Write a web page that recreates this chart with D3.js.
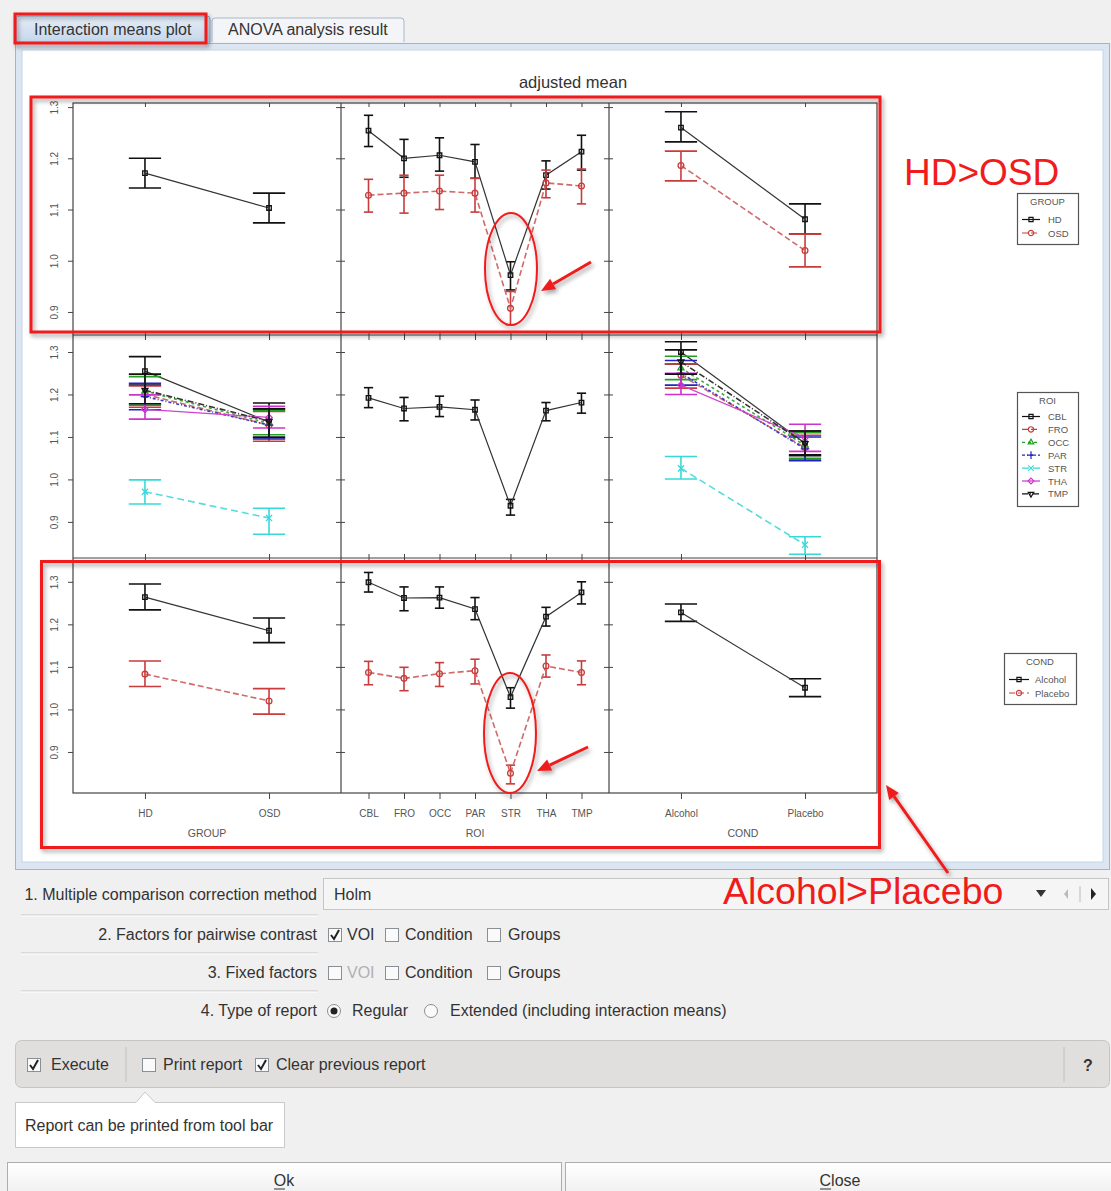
<!DOCTYPE html>
<html><head><meta charset="utf-8">
<script src="https://cdn.jsdelivr.net/npm/d3@7"></script>
<style>
body{margin:0;background:#f0f0f0;}
svg{display:block;font-family:"Liberation Sans",Arial,sans-serif;}
</style></head><body>
<svg id="c" width="1111" height="1191"></svg>
<script>
// ---------------- DATA ----------------
const groupCats = ["HD","OSD"];
const roiCats = ["CBL","FRO","OCC","PAR","STR","THA","TMP"];
const condCats = ["Alcohol","Placebo"];
const yTicks = [0.9,1.0,1.1,1.2,1.3];

// Row 1: trace factor GROUP
const grpMainMean = [1.171,1.103], grpMainLo = [1.142,1.074], grpMainHi = [1.200,1.132];
const hdRoiMean = [1.254,1.200,1.206,1.193,0.972,1.167,1.213];
const hdRoiLo   = [1.223,1.163,1.175,1.161,0.943,1.140,1.177];
const hdRoiHi   = [1.284,1.237,1.240,1.227,0.998,1.195,1.245];
const osdRoiMean = [1.128,1.132,1.136,1.132,0.907,1.152,1.146];
const osdRoiLo   = [1.095,1.093,1.100,1.095,0.875,1.123,1.111];
const osdRoiHi   = [1.159,1.167,1.167,1.161,0.940,1.177,1.179];
const hdCondMean = [1.260,1.081], hdCondLo = [1.232,1.052], hdCondHi = [1.291,1.111];
const osdCondMean = [1.186,1.020], osdCondLo = [1.156,0.988], osdCondHi = [1.214,1.052];

// Row 2: trace factor ROI  (one [HD,OSD] / [Alcohol,Placebo] pair per ROI)
const roiByGroupMean = [[1.255,1.135],[1.200,1.128],[1.208,1.132],[1.195,1.128],[0.971,0.909],[1.165,1.146],[1.210,1.137]];
const roiByGroupLo   = [[1.222,1.098],[1.170,1.090],[1.175,1.105],[1.164,1.095],[0.942,0.871],[1.142,1.121],[1.178,1.100]];
const roiByGroupHi   = [[1.289,1.180],[1.220,1.160],[1.242,1.162],[1.226,1.166],[0.999,0.932],[1.199,1.172],[1.248,1.166]];
const roiMainMean = [1.192,1.167,1.171,1.164,0.938,1.162,1.181];
const roiMainLo   = [1.169,1.138,1.148,1.140,0.916,1.138,1.156];
const roiMainHi   = [1.216,1.193,1.196,1.187,0.953,1.181,1.203];
const roiByCondMean = [[1.300,1.085],[1.245,1.075],[1.262,1.080],[1.250,1.072],[1.026,0.846],[1.222,1.098],[1.277,1.085]];
const roiByCondLo   = [[1.272,1.058],[1.215,1.046],[1.235,1.050],[1.222,1.044],[1.001,0.824],[1.200,1.066],[1.248,1.056]];
const roiByCondHi   = [[1.324,1.114],[1.272,1.104],[1.290,1.110],[1.280,1.100],[1.054,0.865],[1.250,1.130],[1.305,1.114]];

// Row 3: trace factor COND
const alcGroupMean = [1.264,1.185], alcGroupLo = [1.234,1.157], alcGroupHi = [1.295,1.215];
const placGroupMean = [1.083,1.020], placGroupLo = [1.054,0.989], placGroupHi = [1.114,1.049];
const alcRoiMean = [1.299,1.262,1.263,1.236,1.029,1.218,1.275];
const alcRoiLo   = [1.276,1.232,1.238,1.211,1.003,1.196,1.248];
const alcRoiHi   = [1.322,1.288,1.288,1.263,1.051,1.240,1.300];
const placRoiMean = [1.087,1.073,1.084,1.091,0.850,1.102,1.087];
const placRoiLo   = [1.058,1.044,1.054,1.060,0.825,1.076,1.058];
const placRoiHi   = [1.113,1.099,1.110,1.118,0.869,1.128,1.114];
const condMainMean = [1.228,1.051], condMainLo = [1.207,1.030], condMainHi = [1.248,1.072];

const factorTitles = ["GROUP","ROI","COND"];

// ---------------- STYLES ----------------
const sColor = ["#111111","#c83c3c","#22a022","#2222c0","#38d8d8","#cc33cc","#111111"];
const sLine  = ["#333333","#d06a6a","#3aaa3a","#3a3ac8","#55dcdc","#cc44cc","#333333"];
const sDash  = [null,"6,3","3,3","3,2,1,2","7,4",null,"6,2,1,2"];
const sSym   = [d3.symbolSquare2,d3.symbolCircle,d3.symbolTriangle2,d3.symbolPlus,d3.symbolTimes,d3.symbolDiamond2,d3.symbolTriangle2];
const sRot   = [0,0,0,0,0,0,180];

const svg = d3.select("#c");
const defs = svg.append("defs");
const f = defs.append("filter").attr("id","sh").attr("x","-10%").attr("y","-10%").attr("width","130%").attr("height","130%");
f.append("feDropShadow").attr("dx",2).attr("dy",3).attr("stdDeviation",2).attr("flood-color","#000").attr("flood-opacity",0.35);
const gr = defs.append("linearGradient").attr("id","tabg").attr("x1",0).attr("x2",0).attr("y1",0).attr("y2",1);
gr.append("stop").attr("offset","0").attr("stop-color","#e6eef8");
gr.append("stop").attr("offset","1").attr("stop-color","#c4d5ea");
const bg = defs.append("linearGradient").attr("id","btng").attr("x1",0).attr("x2",0).attr("y1",0).attr("y2",1);
bg.append("stop").attr("offset","0").attr("stop-color","#ffffff");
bg.append("stop").attr("offset","1").attr("stop-color","#ececec");

// ---------------- WINDOW CHROME ----------------
svg.append("rect").attr("x",0).attr("y",0).attr("width",1111).attr("height",1191).attr("fill","#f0f0f0");
// tabs
svg.append("path").attr("d","M212,42 L212,21 Q212,18 215,18 L401,18 Q404,18 404,21 L404,42").attr("fill","#f3f5f8").attr("stroke","#a9b8c8");
svg.append("text").attr("x",228).attr("y",35).attr("font-size",16).attr("fill","#333").text("ANOVA analysis result");
svg.append("path").attr("d","M16,43 L16,19 Q16,16 19,16 L207,16 Q210,16 210,19 L210,43").attr("fill","url(#tabg)").attr("stroke","#8eaacb");
svg.append("text").attr("x",34).attr("y",35).attr("font-size",16).attr("fill","#333").text("Interaction means plot");
// plot frame
svg.append("rect").attr("x",15.5).attr("y",43.5).attr("width",1094).attr("height",826).attr("fill","#dbe6f2").attr("stroke","#9db5cf");
svg.append("rect").attr("x",22).attr("y",50).attr("width",1081).attr("height",812).attr("fill","#ffffff").attr("stroke","#c5d4e4");

// ---------------- CHART ----------------
const rows = [
  {top:103,bottom:335,domain:[0.855,1.308]},
  {top:335,bottom:558,domain:[0.815,1.340]},
  {top:558,bottom:793,domain:[0.8035,1.356]}
];
const cols = [
  {left:73,right:341,cats:groupCats,pad:0.58},
  {left:341,right:609,cats:roiCats,pad:0.775},
  {left:609,right:877,cats:condCats,pad:0.58}
];
const yS = rows.map(r=>d3.scaleLinear().domain(r.domain).range([r.bottom,r.top]));
const xS = cols.map(c=>d3.scalePoint().domain(c.cats).range([c.left,c.right]).padding(c.pad));

const S = (m,l,h)=>({mean:m,lo:l,hi:h});
const panels = [
  [[S(grpMainMean,grpMainLo,grpMainHi)],
   [S(hdRoiMean,hdRoiLo,hdRoiHi),S(osdRoiMean,osdRoiLo,osdRoiHi)],
   [S(hdCondMean,hdCondLo,hdCondHi),S(osdCondMean,osdCondLo,osdCondHi)]],
  [roiCats.map((d,i)=>S(roiByGroupMean[i],roiByGroupLo[i],roiByGroupHi[i])),
   [S(roiMainMean,roiMainLo,roiMainHi)],
   roiCats.map((d,i)=>S(roiByCondMean[i],roiByCondLo[i],roiByCondHi[i]))],
  [[S(alcGroupMean,alcGroupLo,alcGroupHi),S(placGroupMean,placGroupLo,placGroupHi)],
   [S(alcRoiMean,alcRoiLo,alcRoiHi),S(placRoiMean,placRoiLo,placRoiHi)],
   [S(condMainMean,condMainLo,condMainHi)]]
];

svg.append("text").attr("x",573).attr("y",88).attr("text-anchor","middle").attr("font-size",16.5).attr("fill","#333").text("adjusted mean");

const chart = svg.append("g");
chart.append("rect").attr("x",73).attr("y",103).attr("width",804).attr("height",690).attr("fill","none").attr("stroke","#444").attr("stroke-width",1.2);
[341,609].forEach(x=>chart.append("line").attr("x1",x).attr("x2",x).attr("y1",103).attr("y2",793).attr("stroke","#444").attr("stroke-width",1.2));
[335,558].forEach(y=>chart.append("line").attr("x1",73).attr("x2",877).attr("y1",y).attr("y2",y).attr("stroke","#444").attr("stroke-width",1.2));

function clean(g){ g.select(".domain").remove(); g.selectAll("line").attr("stroke","#444"); g.selectAll("text").attr("fill","#555").attr("font-family","Liberation Sans, Arial, sans-serif"); }

rows.forEach((r,ri)=>{
  const y = yS[ri];
  const g = chart.append("g").attr("transform","translate(73,0)")
    .call(d3.axisLeft(y).tickValues(yTicks).tickSize(5).tickFormat(d3.format(".1f")));
  clean(g);
  g.selectAll(".tick text").attr("x",0).attr("dy",0).attr("font-size",10)
    .attr("text-anchor","middle").attr("transform","translate(-15,0) rotate(-90)");
  [341,609].forEach(x=>{
    clean(chart.append("g").attr("transform",`translate(${x},0)`).call(d3.axisRight(y).tickValues(yTicks).tickSize(4).tickFormat("")));
    clean(chart.append("g").attr("transform",`translate(${x},0)`).call(d3.axisLeft(y).tickValues(yTicks).tickSize(5).tickFormat("")));
  });
});
cols.forEach((c,ci)=>{
  const x = xS[ci];
  const g = chart.append("g").attr("transform","translate(0,793)").call(d3.axisBottom(x).tickSize(6).tickPadding(11));
  clean(g);
  g.selectAll(".tick text").attr("font-size",10);
  chart.append("text").attr("x",(c.left+c.right)/2).attr("y",837).attr("text-anchor","middle")
    .attr("font-size",10.5).attr("fill","#555").text(factorTitles[ci]);
  [335,558].forEach(yy=>{
    clean(chart.append("g").attr("transform",`translate(0,${yy})`).call(d3.axisBottom(x).tickSize(5).tickFormat("")));
    clean(chart.append("g").attr("transform",`translate(0,${yy})`).call(d3.axisTop(x).tickSize(4).tickFormat("")));
  });
  clean(chart.append("g").attr("transform","translate(0,103)").call(d3.axisBottom(x).tickSize(4).tickFormat("")));
});

// marks
panels.forEach((rowP,ri)=>rowP.forEach((series,ci)=>{
  const x = xS[ci], y = yS[ri], cats = cols[ci].cats;
  const cap = x.step()*0.13;
  const g = chart.append("g");
  series.forEach((s,si)=>{
    const pts = cats.map((c,i)=>({x:x(c),m:s.mean[i],lo:s.lo[i],hi:s.hi[i]}));
    const eg = g.append("g").attr("stroke",sColor[si]).attr("stroke-width",1.6).attr("fill","none");
    pts.forEach(p=>{
      eg.append("line").attr("x1",p.x).attr("x2",p.x).attr("y1",y(p.lo)).attr("y2",y(p.hi));
      eg.append("line").attr("x1",p.x-cap).attr("x2",p.x+cap).attr("y1",y(p.lo)).attr("y2",y(p.lo));
      eg.append("line").attr("x1",p.x-cap).attr("x2",p.x+cap).attr("y1",y(p.hi)).attr("y2",y(p.hi));
    });
    g.append("path").datum(pts).attr("fill","none").attr("stroke",sLine[si])
      .attr("stroke-width",sDash[si]?1.6:1.2).attr("stroke-dasharray",sDash[si])
      .attr("d",d3.line().x(p=>p.x).y(p=>y(p.m)));
    g.selectAll(null).data(pts).join("path")
      .attr("transform",p=>`translate(${p.x},${y(p.m)}) rotate(${sRot[si]})`)
      .attr("d",d3.symbol(sSym[si],26)).attr("fill","none").attr("stroke",sColor[si]).attr("stroke-width",1.3);
  });
}));

// legends
function legend(x,y,w,h,title,labels,lx1,lx2,tx,step,firstY){
  const g = svg.append("g");
  g.append("rect").attr("x",x+0.5).attr("y",y+0.5).attr("width",w).attr("height",h).attr("fill","#fff").attr("stroke","#555").attr("stroke-width",1.2);
  g.append("text").attr("x",x+w/2).attr("y",y+12).attr("text-anchor","middle").attr("font-size",9.5).attr("fill","#555").text(title);
  labels.forEach((l,i)=>{
    const yy = firstY + i*step;
    g.append("line").attr("x1",lx1).attr("x2",lx2).attr("y1",yy).attr("y2",yy).attr("stroke",sColor[i]).attr("stroke-width",1.2).attr("stroke-dasharray",sDash[i]);
    g.append("path").attr("transform",`translate(${(lx1+lx2)/2},${yy}) rotate(${sRot[i]})`).attr("d",d3.symbol(sSym[i],22)).attr("fill","none").attr("stroke",sColor[i]).attr("stroke-width",1.2);
    g.append("text").attr("x",tx).attr("y",yy+3.5).attr("font-size",9.5).attr("fill","#555").text(l);
  });
}
legend(1017,193,61,51,"GROUP",groupCats,1022,1040,1048,13.5,219.5);
legend(1017,392,61,114,"ROI",roiCats,1022,1040,1048,12.9,416.5);
legend(1004,653,72,51,"COND",condCats,1009,1029,1035,13.5,679.5);

// ---------------- ANNOTATIONS ----------------
const red = "#f01c1c";
const ann = svg.append("g").attr("filter","url(#sh)");
ann.append("rect").attr("x",31).attr("y",97).attr("width",849).attr("height",235).attr("fill","none").attr("stroke",red).attr("stroke-width",3);
ann.append("rect").attr("x",41.5).attr("y",561.5).attr("width",838).attr("height",286).attr("fill","none").attr("stroke",red).attr("stroke-width",3);
ann.append("rect").attr("x",15).attr("y",14).attr("width",191).attr("height",29).attr("fill","none").attr("stroke",red).attr("stroke-width",3);
ann.append("ellipse").attr("cx",511).attr("cy",269).attr("rx",26).attr("ry",56).attr("fill","none").attr("stroke",red).attr("stroke-width",2);
ann.append("ellipse").attr("cx",510).attr("cy",733).attr("rx",26).attr("ry",60).attr("fill","none").attr("stroke",red).attr("stroke-width",2);
function arrow(x1,y1,x2,y2){
  const a = Math.atan2(y2-y1,x2-x1), L=14, W=6;
  const bx = x2-L*Math.cos(a), by = y2-L*Math.sin(a);
  ann.append("line").attr("x1",x1).attr("y1",y1).attr("x2",bx).attr("y2",by).attr("stroke",red).attr("stroke-width",3);
  ann.append("path").attr("fill",red).attr("d",`M${x2},${y2} L${bx+W*Math.sin(a)},${by-W*Math.cos(a)} L${bx-W*Math.sin(a)},${by+W*Math.cos(a)} Z`);
}
arrow(591,262,541,291);
arrow(588,747,537,771);
arrow(948,873,886,785);
svg.append("text").attr("x",904).attr("y",185).attr("font-size",37).attr("fill",red).text("HD>OSD");

// ---------------- FORM ----------------
const ui = svg.append("g").attr("font-size",16).attr("fill","#333");
function sep(y){ ui.append("line").attr("x1",21).attr("x2",318).attr("y1",y).attr("y2",y).attr("stroke","#c4c4c4"); ui.append("line").attr("x1",21).attr("x2",318).attr("y1",y+1).attr("y2",y+1).attr("stroke","#fff"); }
function cb(x,yc,checked){
  ui.append("rect").attr("x",x+0.5).attr("y",yc-6.5).attr("width",13).attr("height",13).attr("fill","#fafafa").attr("stroke","#8a8f96");
  if(checked) ui.append("path").attr("d",`M${x+3},${yc} L${x+6},${yc+4} L${x+11},${yc-5}`).attr("fill","none").attr("stroke","#222").attr("stroke-width",2);
}
function radio(cx,cy,sel){
  ui.append("circle").attr("cx",cx).attr("cy",cy).attr("r",6.5).attr("fill","#fafafa").attr("stroke","#8a8f96");
  if(sel) ui.append("circle").attr("cx",cx).attr("cy",cy).attr("r",3.5).attr("fill","#222");
}
function txt(x,y,s,anchor,col){ return ui.append("text").attr("x",x).attr("y",y).attr("text-anchor",anchor||"start").attr("fill",col||"#333").text(s); }

txt(317,900,"1. Multiple comparison correction method","end");
ui.append("rect").attr("x",323.5).attr("y",878.5).attr("width",785).attr("height",31).attr("fill","#f5f5f5").attr("stroke","#c6c6c6");
txt(334,900,"Holm");
ui.append("path").attr("d","M1036,890 L1046,890 L1041,897 Z").attr("fill","#333");
ui.append("path").attr("d","M1068,889 L1064,894 L1068,899 Z").attr("fill","#bbb");
ui.append("line").attr("x1",1080).attr("x2",1080).attr("y1",886).attr("y2",902).attr("stroke","#bbb");
ui.append("path").attr("d","M1091,888 L1096,894 L1091,900 Z").attr("fill","#222");
sep(915);
txt(317,940,"2. Factors for pairwise contrast","end");
cb(328,935,true); txt(347,940,"VOI");
cb(385,935,false); txt(405,940,"Condition");
cb(487,935,false); txt(508,940,"Groups");
sep(953);
txt(317,978,"3. Fixed factors","end");
cb(328,973,false); txt(347,978,"VOI","start","#b0b0b0");
cb(385,973,false); txt(405,978,"Condition");
cb(487,973,false); txt(508,978,"Groups");
sep(991);
txt(317,1016,"4. Type of report","end");
radio(334,1011,true); txt(352,1016,"Regular");
radio(431,1011,false); txt(450,1016,"Extended (including interaction means)");

// toolbar
ui.append("rect").attr("x",15.5).attr("y",1040.5).attr("width",1094).attr("height",47).attr("rx",6).attr("fill","#e1dfdd").attr("stroke","#c7c5c3");
cb(27,1065,true); txt(51,1070,"Execute");
ui.append("line").attr("x1",126).attr("x2",126).attr("y1",1047).attr("y2",1082).attr("stroke","#c2c0be");
cb(142,1065,false); txt(163,1070,"Print report");
cb(255,1065,true); txt(276,1070,"Clear previous report");
ui.append("line").attr("x1",1064).attr("x2",1064).attr("y1",1047).attr("y2",1082).attr("stroke","#c2c0be");
txt(1088,1071,"?","middle").attr("font-weight","bold");
// tooltip
ui.append("path").attr("d","M15.5,1102.5 L136,1102.5 L145,1092 L155,1102.5 L284.5,1102.5 L284.5,1147.5 L15.5,1147.5 Z").attr("fill","#fff").attr("stroke","#c8c8c8");
txt(25,1131,"Report can be printed from tool bar");
// buttons
ui.append("rect").attr("x",7.5).attr("y",1162.5).attr("width",554).attr("height",40).attr("fill","url(#btng)").attr("stroke","#adadad");
ui.append("rect").attr("x",565.5).attr("y",1162.5).attr("width",546).attr("height",40).attr("fill","url(#btng)").attr("stroke","#adadad");
txt(284,1186,"Ok","middle");
ui.append("line").attr("x1",274).attr("x2",285).attr("y1",1189).attr("y2",1189).attr("stroke","#333");
txt(840,1186,"Close","middle");
ui.append("line").attr("x1",820).attr("x2",831).attr("y1",1189).attr("y2",1189).attr("stroke","#333");

svg.append("text").attr("x",723).attr("y",904).attr("font-size",37.5).attr("fill",red).text("Alcohol>Placebo");
</script>
</body></html>
